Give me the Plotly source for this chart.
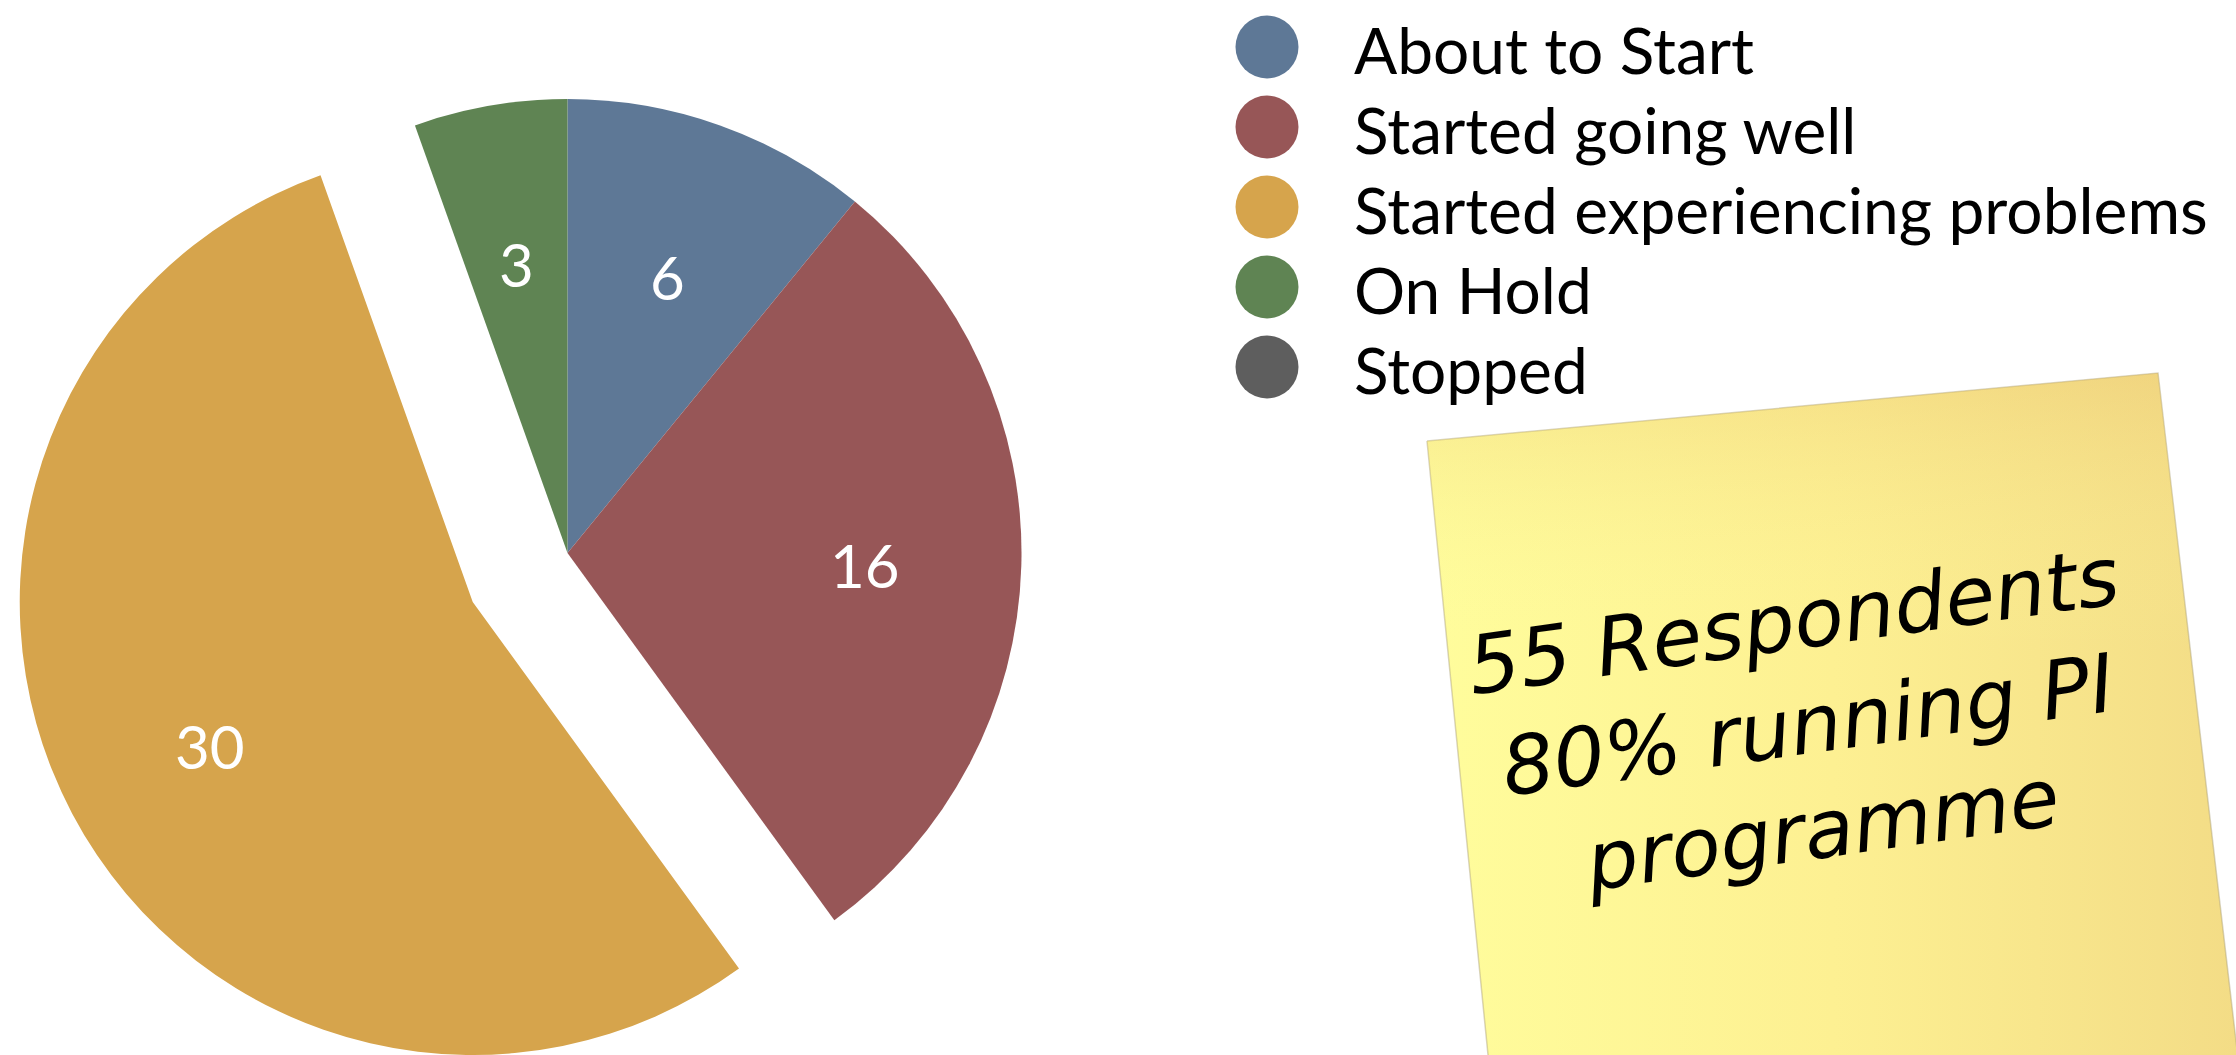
import math
import plotly.graph_objects as go

# ---------------- data ----------------
categories = ["About to Start", "Started going well", "Started experiencing problems", "On Hold", "Stopped"]
counts = [6, 16, 30, 3, 0]
colors = ["#5E7896", "#975657", "#D6A44C", "#5F8453", "#5E5E5E"]
exploded = "Started experiencing problems"
note_lines = ["55 Respondents", "80% running PI", "programme"]

# ---------------- layout constants ----------------
W, H = 2236, 1055
CX, CY, R = 567.5, 553, 454
PULL = 0.236
LABEL_FRAC = 0.655
TRANSPARENT = "rgba(0,0,0,0)"

total = sum(counts)
ex_i = categories.index(exploded)


def mid_angle(i):
    return (sum(counts[:i]) + counts[i] / 2) / total * 360


ex_mid = math.radians(mid_angle(ex_i))
ex_cx = CX + PULL * R * math.sin(ex_mid)
ex_cy = CY - PULL * R * math.cos(ex_mid)


def clamp(v):
    return max(0.0, min(1.0, v))


def domain(cx, cy, r):
    return dict(x=[clamp((cx - r) / W), clamp((cx + r) / W)],
                y=[clamp(1 - (cy + r) / H), clamp(1 - (cy - r) / H)])


fig = go.Figure()

# sticky note (decoration) on pixel axis
note_x = [1427, 2158, 2240, 1490, 1427]
note_y = [441, 373, 1075, 1075, 441]
fig.add_trace(go.Scatter(
    x=note_x, y=note_y, mode="lines", fill="toself",
    line=dict(color="rgba(170,160,120,0.45)", width=1.5),
    fillgradient=dict(type="horizontal",
                      colorscale=[[0, "#FFFD9C"], [0.5, "#FDF092"], [1, "#F3DC86"]]),
    hoverinfo="skip", showlegend=False, xaxis="x", yaxis="y"))
fig.add_trace(go.Scatter(
    x=note_x, y=note_y, mode="lines", fill="toself",
    line=dict(width=0),
    fillgradient=dict(type="vertical",
                      colorscale=[[0, "rgba(255,255,160,0)"], [0.6, "rgba(255,255,160,0)"],
                                  [1, "rgba(232,192,112,0.35)"]]),
    hoverinfo="skip", showlegend=False, xaxis="x", yaxis="y"))

# main pie (all but exploded slice)
main_colors = [c if i != ex_i else TRANSPARENT for i, c in enumerate(colors)]
fig.add_trace(go.Pie(
    labels=categories, values=counts, sort=False, direction="clockwise", rotation=0,
    marker=dict(colors=main_colors, line=dict(width=0)),
    textinfo="none", domain=domain(CX, CY, R), showlegend=False, hoverinfo="label+value"))

# exploded slice
ex_colors = [c if i == ex_i else TRANSPARENT for i, c in enumerate(colors)]
fig.add_trace(go.Pie(
    labels=categories, values=counts, sort=False, direction="clockwise", rotation=0,
    marker=dict(colors=ex_colors, line=dict(width=0)),
    textinfo="none", domain=domain(ex_cx, ex_cy, R), showlegend=False, hoverinfo="label+value"))

annotations = []
# slice value labels computed from the data
for i, v in enumerate(counts):
    if v <= 0:
        continue
    a = math.radians(mid_angle(i))
    cx, cy = (ex_cx, ex_cy) if i == ex_i else (CX, CY)
    annotations.append(dict(x=cx + LABEL_FRAC * R * math.sin(a),
                            y=cy - LABEL_FRAC * R * math.cos(a) + 4,
                            xref="x", yref="y", text=str(v), showarrow=False,
                            xanchor="center", yanchor="middle",
                            font=dict(family="Lato", size=60, color="white")))

# custom legend with circle markers
LEG_X, LEG_Y0, LEG_DY, LEG_TX = 1267, 47, 80, 1352
leg_y = [LEG_Y0 + LEG_DY * i for i in range(len(categories))]
fig.add_trace(go.Scatter(
    x=[LEG_X] * len(categories), y=leg_y, mode="markers",
    marker=dict(size=63, color=colors, symbol="circle", line=dict(width=0)),
    hoverinfo="skip", showlegend=False, xaxis="x", yaxis="y"))
for cat, yy in zip(categories, leg_y):
    annotations.append(dict(x=LEG_TX, y=yy + 2, xref="x", yref="y", text=cat,
                            showarrow=False, xanchor="left", yanchor="middle",
                            font=dict(family="Lato", size=64, color="black")))

annotations.append(dict(x=1808, y=725, xref="x", yref="y",
                        text="<br>".join(note_lines), showarrow=False,
                        textangle=-8, align="center",
                        font=dict(family="DejaVu Sans", size=81, color="black", style="italic")))

fig.update_layout(
    width=W, height=H, margin=dict(l=0, r=0, t=0, b=0),
    paper_bgcolor="white", plot_bgcolor="rgba(0,0,0,0)",
    xaxis=dict(range=[0, W], visible=False, domain=[0, 1], fixedrange=True),
    yaxis=dict(range=[H, 0], visible=False, domain=[0, 1], fixedrange=True),
    annotations=annotations, showlegend=False)

fig.write_html("out.html", config={"displayModeBar": False},
               post_script="document.body.style.margin='0px';")
